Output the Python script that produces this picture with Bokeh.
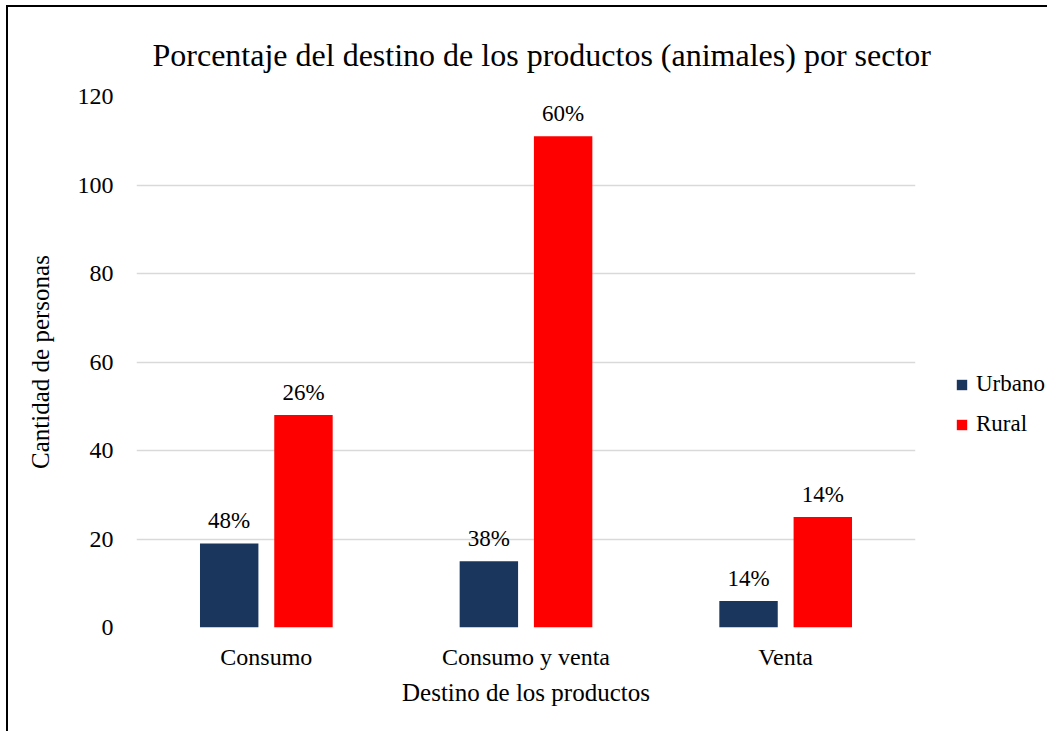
from bokeh.plotting import figure
from bokeh.layouts import row
from bokeh.models import ColumnDataSource, LabelSet, Legend, LegendItem, Range1d, FactorRange, Title
from bokeh.transform import dodge
from bokeh.core.properties import value
from bokeh.embed import file_html
from bokeh.resources import INLINE

categories = ["Consumo", "Consumo y venta", "Venta"]
urbano = [19, 15, 6]
rural = [48, 111, 25]
urbano_pct = ["48%", "38%", "14%"]
rural_pct = ["26%", "60%", "14%"]
y_ticks = [0, 20, 40, 60, 80, 100, 120]
series_names = ["Urbano", "Rural"]

FONT = "Liberation Serif"
C_URB = "#1b365d"
C_RUR = "#ff0000"

src = ColumnDataSource(dict(cat=categories, urbano=urbano, rural=rural,
                            upct=urbano_pct, rpct=rural_pct))

p = figure(x_range=FactorRange(*categories, range_padding=0), y_range=Range1d(0, 120),
           width=927, height=724, output_backend="svg", toolbar_location=None,
           min_border_left=128, min_border_right=20, min_border_top=89, min_border_bottom=104)

p.title = Title(text="Porcentaje del destino de los productos (animales) por sector",
                text_font=FONT, text_font_size="32px", text_font_style="normal",
                text_color="#000000", align="left", offset=16, standoff=47)

p.vbar(x=dodge("cat", -0.143, range=p.x_range), top="urbano", width=0.225, source=src,
       fill_color=C_URB, line_color=None)
p.vbar(x=dodge("cat", 0.143, range=p.x_range), top="rural", width=0.225, source=src,
       fill_color=C_RUR, line_color=None)

for col, txt, off in (("urbano", "upct", -0.143), ("rural", "rpct", 0.143)):
    p.add_layout(LabelSet(x=dodge("cat", off, range=p.x_range), y=col, text=txt, source=src,
                          text_align="center", text_baseline="bottom", y_offset=10,
                          text_font=value(FONT), text_font_size="23px", text_color="#000000"))

p.yaxis.ticker = y_ticks
for ax in (p.xaxis[0], p.yaxis[0]):
    ax.axis_line_color = None
    ax.major_tick_line_color = None
    ax.minor_tick_line_color = None
    ax.major_tick_out = 0
    ax.major_tick_in = 0
    ax.minor_tick_out = 0
    ax.major_label_text_font = FONT
    ax.major_label_text_font_size = "24px"
    ax.major_label_text_color = "#000000"
    ax.axis_label_text_font = FONT
    ax.axis_label_text_font_size = "25px"
    ax.axis_label_text_font_style = "normal"
    ax.axis_label_text_color = "#000000"
p.yaxis.major_label_standoff = 23
p.xaxis.major_label_standoff = 16
p.yaxis.axis_label = "Cantidad de personas"
p.xaxis.axis_label = "Destino de los productos"
p.yaxis.axis_label_standoff = 21
p.xaxis.axis_label_standoff = 6

p.xgrid.grid_line_color = None
p.ygrid.grid_line_color = "#d9d9d9"
p.ygrid.grid_line_width = 1.5
p.outline_line_color = None

# legend panel
q = figure(x_range=Range1d(0, 1), y_range=Range1d(0, 120), width=112, height=724,
           output_backend="svg", toolbar_location=None,
           x_axis_location=None, y_axis_location=None,
           min_border_left=0, min_border_right=0, min_border_top=89, min_border_bottom=104)
q.xgrid.grid_line_color = None
q.ygrid.grid_line_color = None
q.outline_line_color = None
# zero-size proxies so the legend has swatches
lr1 = q.vbar(x=[0.5], bottom=[60], top=[60], width=0, fill_color=C_URB, line_color=None)
lr2 = q.vbar(x=[0.5], bottom=[60], top=[60], width=0, fill_color=C_RUR, line_color=None)
legend = Legend(items=[LegendItem(label=series_names[0], renderers=[lr1]),
                       LegendItem(label=series_names[1], renderers=[lr2])],
                location=(20, 190), orientation="vertical",
                label_text_font=FONT, label_text_font_size="23px", label_text_color="#000000",
                glyph_width=13, glyph_height=13, label_standoff=8, spacing=14,
                border_line_color=None, background_fill_alpha=0, padding=0, margin=0)
q.add_layout(legend)

layout = row(p, q)
layout.styles = {"border-left": "2px solid black", "border-top": "2px solid black",
                 "margin-left": "6px", "margin-top": "5px"}

open("out.html", "w").write(file_html(layout, INLINE))
